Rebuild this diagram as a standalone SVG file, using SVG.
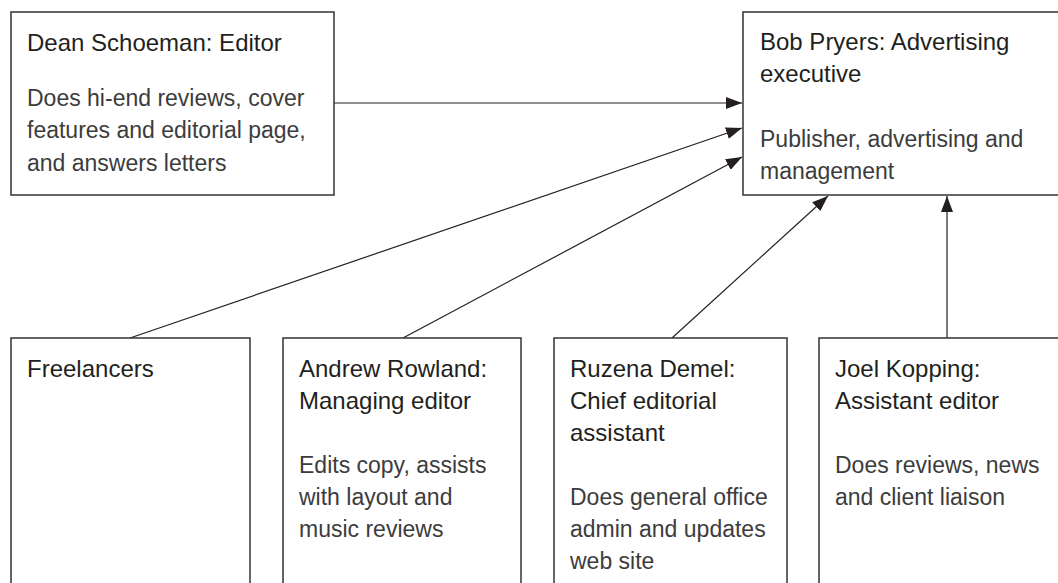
<svg xmlns="http://www.w3.org/2000/svg" width="1058" height="583" viewBox="0 0 1058 583">
<style>
.box{fill:#fff;stroke:#333;stroke-width:1.5}
.t{font-family:"Liberation Sans",Arial,sans-serif;font-size:24px;fill:#231f20}
.b{font-family:"Liberation Sans",Arial,sans-serif;font-size:23px;fill:#3c3c3c}
.c{stroke:#231f20;stroke-width:1.2;fill:none;marker-end:url(#ah)}
</style>
<defs>
<marker id="ah" viewBox="0 0 16 12" refX="16" refY="6" markerWidth="16" markerHeight="12" markerUnits="userSpaceOnUse" orient="auto">
<path d="M0,0 L16,6 L0,12 Z" fill="#231f20"/>
</marker>
</defs>
<g id="connectors">
<line class="c" x1="334" y1="103" x2="742" y2="103"/>
<line class="c" x1="130" y1="338" x2="742" y2="128"/>
<line class="c" x1="403" y1="338" x2="742" y2="157"/>
<line class="c" x1="672" y1="338" x2="828" y2="196"/>
<line class="c" x1="947" y1="338" x2="947" y2="196"/>
</g>
<g id="dean">
<rect class="box" x="11" y="12" width="323" height="183"/>
<text class="t" x="27" y="51">Dean Schoeman: Editor</text>
<text class="b" x="27" y="106">Does hi-end reviews, cover</text>
<text class="b" x="27" y="138">features and editorial page,</text>
<text class="b" x="27" y="171">and answers letters</text>
</g>
<g id="bob">
<rect class="box" x="743" y="12" width="330" height="183"/>
<text class="t" x="760" y="50">Bob Pryers: Advertising</text>
<text class="t" x="760" y="82">executive</text>
<text class="b" x="760" y="147">Publisher, advertising and</text>
<text class="b" x="760" y="179">management</text>
</g>
<g id="freelancers">
<rect class="box" x="11" y="338" width="239" height="260"/>
<text class="t" x="27" y="377">Freelancers</text>
</g>
<g id="andrew">
<rect class="box" x="283" y="338" width="238" height="260"/>
<text class="t" x="299" y="377">Andrew Rowland:</text>
<text class="t" x="299" y="409">Managing editor</text>
<text class="b" x="299" y="473">Edits copy, assists</text>
<text class="b" x="299" y="505">with layout and</text>
<text class="b" x="299" y="537">music reviews</text>
</g>
<g id="ruzena">
<rect class="box" x="554" y="338" width="233" height="260"/>
<text class="t" x="570" y="377">Ruzena Demel:</text>
<text class="t" x="570" y="409">Chief editorial</text>
<text class="t" x="570" y="441">assistant</text>
<text class="b" x="570" y="505">Does general office</text>
<text class="b" x="570" y="537">admin and updates</text>
<text class="b" x="570" y="569">web site</text>
</g>
<g id="joel">
<rect class="box" x="819" y="338" width="260" height="260"/>
<text class="t" x="835" y="377">Joel Kopping:</text>
<text class="t" x="835" y="409">Assistant editor</text>
<text class="b" x="835" y="473">Does reviews, news</text>
<text class="b" x="835" y="505">and client liaison</text>
</g>
</svg>
